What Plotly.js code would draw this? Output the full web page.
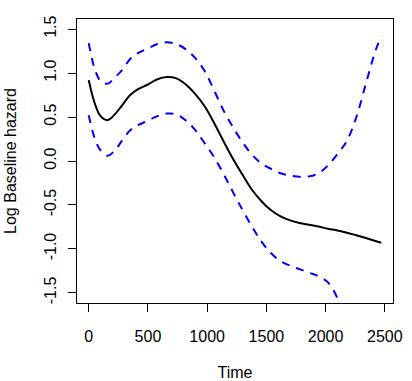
<!DOCTYPE html>
<html>
<head>
<meta charset="utf-8">
<script src="https://cdn.plot.ly/plotly-3.0.1.min.js"></script>
<style>
  html, body { margin: 0; padding: 0; background: #fff; }
  #graph { width: 412px; height: 381px; }
</style>
</head>
<body>
<div id="graph"></div>
<script>
// values
const time = [0, 50, 100, 160, 220, 280, 350, 420, 500, 580, 660, 740, 820, 900, 980, 1060, 1140, 1220, 1300, 1380, 1460, 1540, 1620, 1700, 1780, 1860, 1940, 2020, 2100, 2180, 2260, 2340, 2420, 2470];
const logHaz = [0.92, 0.66, 0.51, 0.465, 0.53, 0.63, 0.75, 0.82, 0.87, 0.93, 0.955, 0.94, 0.87, 0.76, 0.62, 0.43, 0.22, 0.02, -0.16, -0.33, -0.46, -0.56, -0.63, -0.675, -0.705, -0.725, -0.745, -0.77, -0.79, -0.815, -0.845, -0.875, -0.91, -0.93];
const upper = [1.34, 1.05, 0.91, 0.88, 0.95, 1.03, 1.16, 1.23, 1.28, 1.33, 1.35, 1.33, 1.27, 1.17, 1.02, 0.80, 0.57, 0.38, 0.21, 0.07, -0.03, -0.09, -0.14, -0.165, -0.18, -0.175, -0.14, -0.05, 0.08, 0.23, 0.50, 0.88, 1.25, 1.42];
const lower = [0.52, 0.26, 0.12, 0.06, 0.12, 0.23, 0.35, 0.41, 0.46, 0.51, 0.54, 0.53, 0.46, 0.35, 0.20, 0.04, -0.15, -0.36, -0.56, -0.75, -0.92, -1.05, -1.14, -1.19, -1.23, -1.27, -1.31, -1.38, -1.56, -1.85, -2.15, -2.58, -3.05, -3.28];

const xTicks = [0, 500, 1000, 1500, 2000, 2500];
const yTicks = [-1.5, -1.0, -0.5, 0.0, 0.5, 1.0, 1.5];

const font = 'Liberation Sans, Arial, sans-serif';

const traces = [
  {x: time, y: logHaz, mode: 'lines', line: {color: 'black', width: 2, shape: 'spline'}, hoverinfo: 'none'},
  {x: time, y: upper, mode: 'lines', line: {color: 'blue', width: 2, dash: '8px,7px', shape: 'spline'}, hoverinfo: 'none'},
  {x: time, y: lower, mode: 'lines', line: {color: 'blue', width: 2, dash: '8px,7px', shape: 'spline'}, hoverinfo: 'none'}
];

const layout = {
  width: 412, height: 381,
  margin: {l: 77, r: 19, t: 19, b: 78},
  showlegend: false,
  paper_bgcolor: '#fff', plot_bgcolor: '#fff',
  font: {family: font, size: 16, color: '#000'},
  xaxis: {
    range: [-99, 2569], tickvals: xTicks, ticktext: xTicks.map(String),
    showgrid: false, zeroline: false, showline: true, mirror: true, linecolor: '#000', linewidth: 1,
    ticks: 'outside', ticklen: 8, tickcolor: '#000', ticklabelstandoff: 11,
    title: {text: 'Time', font: {size: 16}, standoff: 22}
  },
  yaxis: {
    range: [-1.615, 1.615], tickvals: yTicks, ticktext: yTicks.map(v => v.toFixed(1)),
    tickangle: -90, ticklabelstandoff: 6,
    showgrid: false, zeroline: false, showline: true, mirror: true, linecolor: '#000', linewidth: 1,
    ticks: 'outside', ticklen: 8, tickcolor: '#000',
    title: {text: 'Log Baseline hazard', font: {size: 16}, standoff: 20}
  }
};

Plotly.newPlot('graph', traces, layout, {staticPlot: true, displayModeBar: false});
</script>
</body>
</html>
